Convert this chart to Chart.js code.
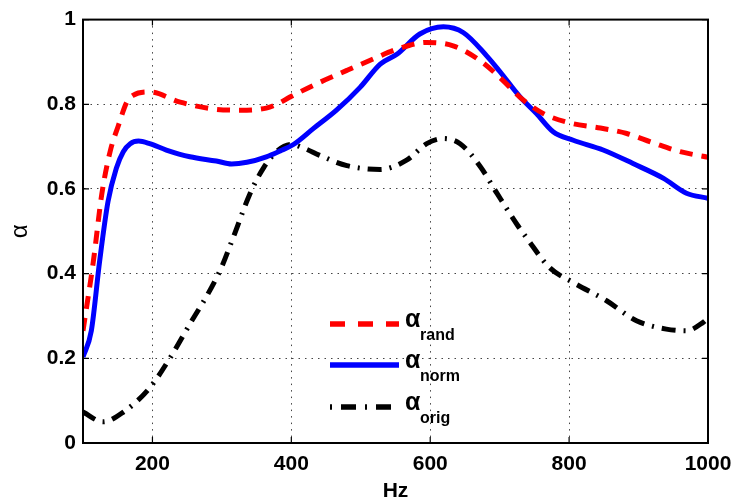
<!DOCTYPE html>
<html>
<head>
<meta charset="utf-8">
<script src="https://cdn.jsdelivr.net/npm/chart.js@4.4.0/dist/chart.umd.min.js"></script>
<style>
  html, body { margin: 0; padding: 0; background: #fff; }
  #wrap { width: 735px; height: 504px; }
</style>
</head>
<body>
<div id="wrap"><canvas id="alphaChart" width="735" height="504"></canvas></div>
<script>
// absorption curves, frequency in Hz
const randHz = [100, 115, 127, 139, 151, 163, 172, 196, 240, 287, 326, 364, 379, 398, 436, 480, 518, 552, 595, 633, 672, 705, 729, 763, 801, 845, 883, 921, 960, 1000];
const randAlpha = [0.265, 0.43, 0.587, 0.688, 0.75, 0.805, 0.821, 0.829, 0.805, 0.789, 0.786, 0.791, 0.80, 0.817, 0.848, 0.88, 0.907, 0.930, 0.946, 0.938, 0.903, 0.856, 0.817, 0.778, 0.756, 0.744, 0.731, 0.709, 0.688, 0.675];

const normHz = [100, 112, 124, 136, 148, 158, 168, 180, 196, 220, 254, 292, 314, 336, 364, 384, 403, 432, 465, 499, 528, 552, 585, 619, 648, 681, 700, 729, 753, 777, 806, 849, 892, 936, 969, 1000];
const normAlpha = [0.203, 0.265, 0.43, 0.57, 0.649, 0.688, 0.707, 0.713, 0.707, 0.692, 0.676, 0.666, 0.659, 0.663, 0.676, 0.69, 0.705, 0.743, 0.786, 0.84, 0.895, 0.918, 0.966, 0.983, 0.969, 0.915, 0.878, 0.818, 0.778, 0.735, 0.715, 0.692, 0.66, 0.625, 0.59, 0.578];

const origHz = [100, 129, 158, 196, 225, 250, 297, 316, 340, 360, 380, 400, 420, 440, 480, 528, 566, 595, 619, 643, 672, 696, 725, 739, 772, 806, 854, 897, 940, 969, 993, 1000];
const origAlpha = [0.073, 0.05, 0.073, 0.13, 0.2, 0.27, 0.406, 0.484, 0.587, 0.65, 0.69, 0.705, 0.695, 0.68, 0.655, 0.646, 0.668, 0.707, 0.719, 0.707, 0.653, 0.59, 0.516, 0.484, 0.414, 0.379, 0.336, 0.289, 0.269, 0.265, 0.285, 0.295];

const xTicks = [200, 400, 600, 800, 1000];
const yTicks = [0, 0.2, 0.4, 0.6, 0.8, 1];
const legendSubs = ['rand', 'norm', 'orig'];

const toPoints = (xs, ys) => xs.map((x, i) => ({ x: x, y: ys[i] }));

const series = [
    { sub: legendSubs[0], data: toPoints(randHz, randAlpha), color: '#ff0000', dash: [13, 9], key: [15, 13] },
    { sub: legendSubs[1], data: toPoints(normHz, normAlpha), color: '#0000ff', dash: [], key: [] },
    { sub: legendSubs[2], data: toPoints(origHz, origAlpha), color: '#000000', dash: [14, 8, 2, 8], key: [2, 9, 15, 9] }
];

// box around the plot + inward ticks + legend with subscripts
const framePlugin = {
    id: 'frame',
    afterDatasetsDraw(chart) {
        const ctx = chart.ctx;
        const a = chart.chartArea;
        const xs = chart.scales.x, ys = chart.scales.y;
        ctx.save();
        ctx.strokeStyle = '#000';
        ctx.lineWidth = 2;
        ctx.setLineDash([]);
        ctx.strokeRect(a.left, a.top, a.right - a.left, a.bottom - a.top);

        ctx.lineWidth = 1.2;
        ctx.beginPath();
        yTicks.forEach(v => {
            const py = ys.getPixelForValue(v);
            ctx.moveTo(a.left, py); ctx.lineTo(a.left + 6, py);
            ctx.moveTo(a.right, py); ctx.lineTo(a.right - 6, py);
        });
        xTicks.forEach(v => {
            const px = xs.getPixelForValue(v);
            ctx.moveTo(px, a.bottom); ctx.lineTo(px, a.bottom - 6);
            ctx.moveTo(px, a.top); ctx.lineTo(px, a.top + 6);
        });
        ctx.stroke();

        // legend
        const rows = [324, 365, 407];
        series.forEach((s, i) => {
            const y = rows[i];
            ctx.strokeStyle = s.color;
            ctx.lineWidth = 5.5;
            ctx.setLineDash(s.key);
            ctx.beginPath();
            ctx.moveTo(330, y);
            ctx.lineTo(399, y);
            ctx.stroke();
            ctx.setLineDash([]);
            ctx.fillStyle = '#000';
            ctx.textBaseline = 'alphabetic';
            ctx.textAlign = 'left';
            ctx.font = 'bold 25px "Liberation Sans", Arial, sans-serif';
            ctx.fillText('α', 405, y + 3);
            ctx.font = 'bold 16px "Liberation Sans", Arial, sans-serif';
            ctx.fillText(s.sub, 420, y + 16);
        });
        ctx.restore();
    }
};

const fontFamily = '"Liberation Sans", Arial, sans-serif';
const tickFont = { family: fontFamily, size: 21, weight: 'bold' };

new Chart(document.getElementById('alphaChart'), {
    type: 'line',
    data: {
        datasets: series.map(s => ({
            label: s.sub,
            data: s.data,
            borderColor: s.color,
            borderWidth: 5,
            borderDash: s.dash,
            pointRadius: 0,
            fill: false,
            cubicInterpolationMode: 'monotone'
        }))
    },
    options: {
        responsive: false,
        animation: false,
        layout: { padding: { top: 17, right: 27, left: 0, bottom: 0 } },
        plugins: { legend: { display: false }, tooltip: { enabled: false } },
        scales: {
            x: {
                type: 'linear',
                min: 100,
                max: 1000,
                afterBuildTicks: scale => { scale.ticks = xTicks.map(v => ({ value: v })); },
                afterFit: scale => {
                    scale.height = 61;
                    scale.paddingLeft = 0;
                    scale.paddingRight = 0;
                },
                ticks: { color: '#000', font: tickFont, padding: 9, maxRotation: 0, callback: v => String(v) },
                grid: { color: '#444', lineWidth: 1, drawTicks: false },
                border: { display: true, color: '#000', width: 2, dash: [1.5, 5] },
                title: { display: true, text: 'Hz', color: '#000', font: tickFont, padding: { top: 0, bottom: 0 } }
            },
            y: {
                min: 0,
                max: 1,
                afterBuildTicks: scale => { scale.ticks = yTicks.map(v => ({ value: v })); },
                afterFit: scale => { scale.width = 83; },
                ticks: {
                    color: '#000', font: tickFont, padding: 7,
                    callback: v => (v === 0 || v === 1) ? String(v) : v.toFixed(1)
                },
                grid: { color: '#444', lineWidth: 1, drawTicks: false },
                border: { display: true, color: '#000', width: 2, dash: [1.5, 5] },
                title: { display: true, text: 'α', color: '#000', font: { family: fontFamily, size: 24 }, padding: { top: 6, bottom: 0 } }
            }
        }
    },
    plugins: [framePlugin]
});
</script>
</body>
</html>
